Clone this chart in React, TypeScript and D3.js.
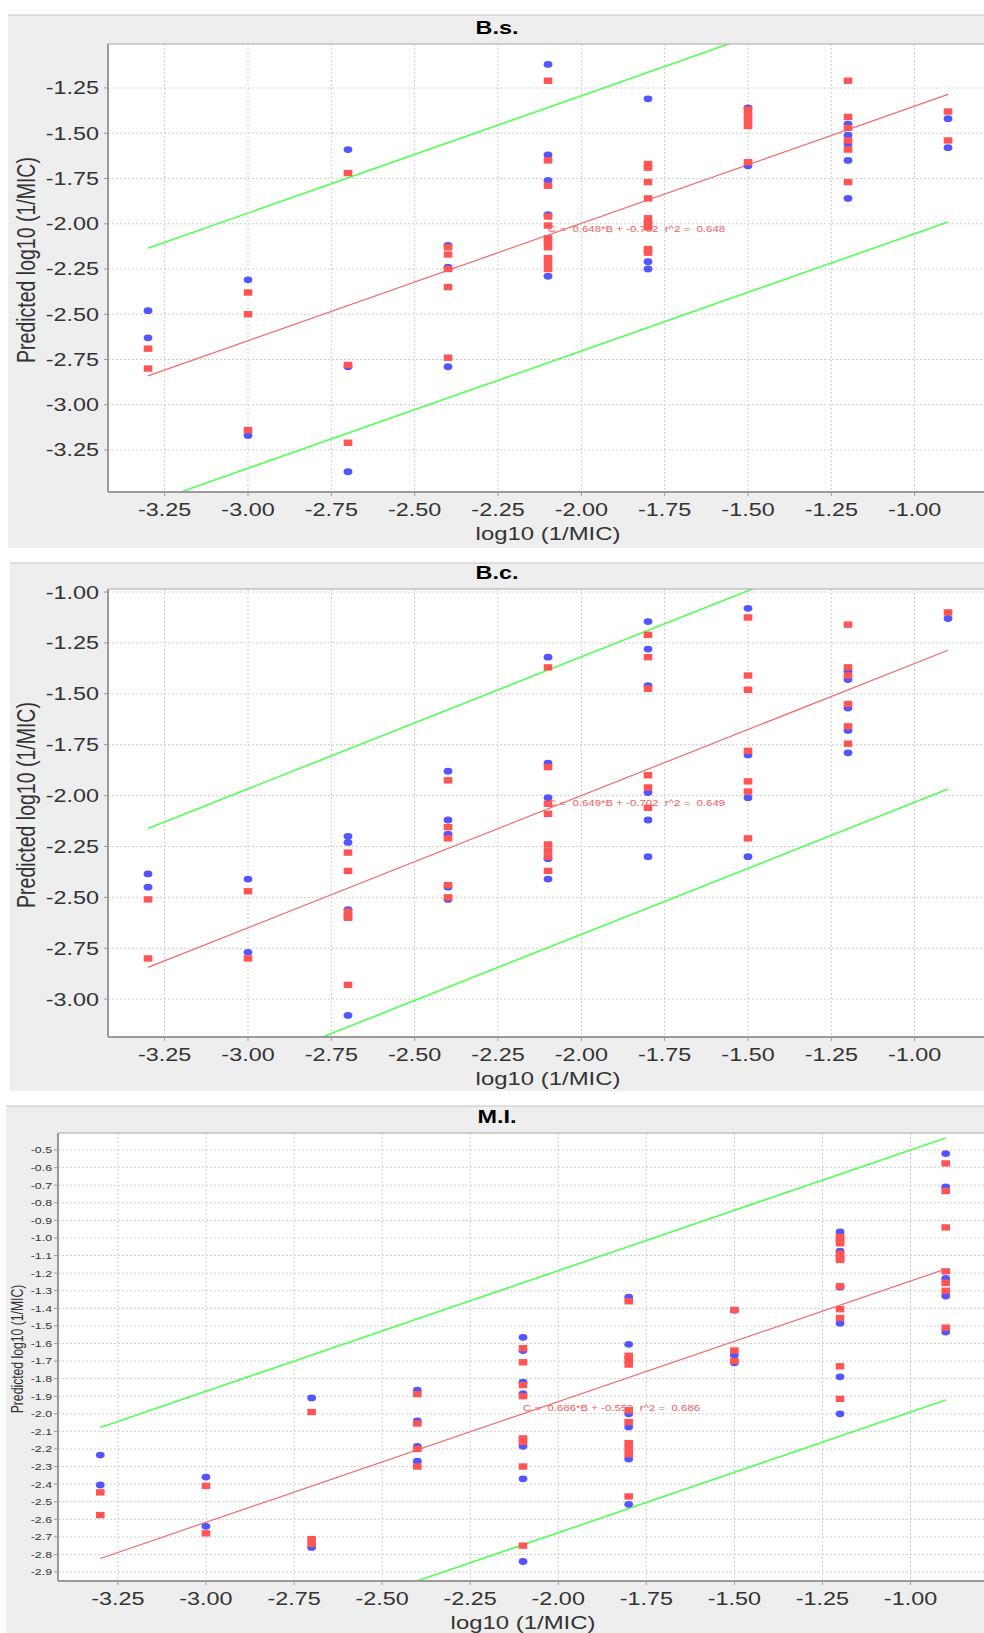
import React from "react";
import * as d3 from "d3";

// shared x levels (log10 1/MIC) and axis ticks
const xLevels = [-3.3, -3.0, -2.7, -2.4, -2.1, -1.8, -1.5, -1.2, -0.9];
const xTicks = [-3.25, -3.0, -2.75, -2.5, -2.25, -2.0, -1.75, -1.5, -1.25, -1.0];
const xDomain = [-3.42, -0.78];
const fitEnds = [-3.3, -0.9];
const labelAt = -2.1;

// B.s. panel, one list of values per x level
const bsBlue = [
  [-2.48, -2.63],
  [-2.31, -3.17],
  [-1.59, -2.79, -3.37],
  [-2.12, -2.24, -2.79],
  [-1.12, -1.62, -1.76, -1.95, -2.29],
  [-1.31, -1.99, -2.21, -2.25],
  [-1.36, -1.68],
  [-1.45, -1.51, -1.56, -1.65, -1.86],
  [-1.42, -1.58],
];
const bsRed = [
  [-2.69, -2.8],
  [-2.38, -2.5, -3.14],
  [-1.72, -2.78, -3.21],
  [-2.13, -2.17, -2.25, -2.35, -2.74],
  [-1.21, -1.65, -1.79, -1.96, -2.01, -2.08, -2.1, -2.13, -2.19, -2.22, -2.25],
  [-1.67, -1.69, -1.77, -1.86, -1.97, -2.0, -2.02, -2.14, -2.16],
  [-1.37, -1.4, -1.43, -1.46, -1.66],
  [-1.21, -1.41, -1.47, -1.54, -1.59, -1.77],
  [-1.38, -1.54],
];
const bsYTicks = [-3.25, -3.0, -2.75, -2.5, -2.25, -2.0, -1.75, -1.5, -1.25];
const bsFit = [0.648, -0.702, 0.705]; // slope, intercept, band
const bsR2 = 0.648;

// B.c. panel
const bcBlue = [
  [-2.385, -2.45],
  [-2.41, -2.77],
  [-2.2, -2.23, -2.56, -3.08],
  [-1.88, -2.12, -2.19, -2.45, -2.51],
  [-1.32, -1.84, -2.01, -2.31, -2.41],
  [-1.145, -1.28, -1.46, -1.985, -2.12, -2.3],
  [-1.08, -1.8, -2.01, -2.3],
  [-1.39, -1.43, -1.57, -1.68, -1.79],
  [-1.13],
];
const bcRed = [
  [-2.51, -2.8],
  [-2.47, -2.8],
  [-2.28, -2.37, -2.57, -2.59, -2.6, -2.93],
  [-1.925, -2.155, -2.21, -2.44, -2.5],
  [-1.37, -1.86, -2.04, -2.09, -2.24, -2.27, -2.3, -2.37],
  [-1.21, -1.32, -1.475, -1.9, -1.96, -2.06],
  [-1.125, -1.41, -1.48, -1.78, -1.93, -1.98, -2.21],
  [-1.16, -1.37, -1.41, -1.55, -1.66, -1.745],
  [-1.1],
];
const bcYTicks = [-3.0, -2.75, -2.5, -2.25, -2.0, -1.75, -1.5, -1.25, -1.0];
const bcFit = [0.649, -0.702, 0.682];
const bcR2 = 0.649;

// M.l. panel
const miBlue = [
  [-2.235, -2.405],
  [-2.36, -2.64],
  [-1.91, -2.76],
  [-1.865, -2.04, -2.185, -2.27],
  [-1.565, -1.64, -1.82, -1.885, -2.185, -2.37, -2.84],
  [-1.336, -1.605, -2.0, -2.075, -2.257, -2.515],
  [-1.41, -1.665, -1.71],
  [-0.966, -1.075, -1.28, -1.485, -1.79, -2.0],
  [-0.52, -0.71, -1.23, -1.33, -1.535],
];
const miRed = [
  [-2.447, -2.576],
  [-2.41, -2.68],
  [-1.99, -2.713, -2.74],
  [-1.888, -2.055, -2.2, -2.3],
  [-1.627, -1.707, -1.837, -1.9, -2.14, -2.16, -2.3, -2.75],
  [-1.36, -1.67, -1.69, -1.72, -1.98, -2.047, -2.167, -2.195, -2.23, -2.47],
  [-1.41, -1.64, -1.7],
  [-0.995, -1.01, -1.03, -1.09, -1.11, -1.125, -1.275, -1.405, -1.455, -1.73, -1.915],
  [-0.576, -0.733, -0.94, -1.19, -1.255, -1.3, -1.51],
];
const miYTicks = [
  -2.9, -2.8, -2.7, -2.6, -2.5, -2.4, -2.3, -2.2, -2.1, -2.0, -1.9, -1.8, -1.7,
  -1.6, -1.5, -1.4, -1.3, -1.2, -1.1, -1.0, -0.9, -0.8, -0.7, -0.6, -0.5,
];
const miFit = [0.686, -0.559, 0.745];
const miR2 = 0.686;

const FONT = "'Liberation Sans', Arial, Helvetica, sans-serif";
const SX = 1.3; // the source picture is stretched sideways
const BLUE = "#5555ff";
const RED = "#ff5555";
const GREEN = "#55ff55";

const Panel = (props) => {
  const { id, title, blue, red, yTicks, yDomain, fit, r2, lay, digits } = props;
  const { box, plot } = lay;
  const x = d3.scaleLinear().domain(xDomain).range([plot.left, plot.right]);
  const y = d3.scaleLinear().domain(yDomain).range([plot.bottom, plot.top]);
  const [slope, intercept, band] = fit;
  const fitY = (b, off) => slope * b + intercept + off;
  const path = d3
    .line()
    .x((d) => x(d[0]))
    .y((d) => y(d[1]));
  const lineFor = (off) => path(fitEnds.map((b) => [b, fitY(b, off)]));
  const bluePts = blue.flatMap((ys, i) => ys.map((v) => [xLevels[i], v]));
  const redPts = red.flatMap((ys, i) => ys.map((v) => [xLevels[i], v]));
  const pw = plot.right - plot.left;
  const ph = plot.bottom - plot.top;
  const fmt = (v) => v.toFixed(digits);
  const eq = `C =  ${slope.toFixed(3)}*B + ${intercept.toFixed(3)}  r^2 =  ${r2.toFixed(3)}`;

  return (
    <g fontFamily={FONT}>
      <rect x={box.x} y={box.y} width={box.w} height={box.h} fill="#eeeeee" />
      <line x1={box.x} x2={box.x + box.w} y1={box.y} y2={box.y} stroke="#c4c4c4" />
      <text
        transform={`translate(497,${lay.titleY}) scale(${SX},1)`}
        textAnchor="middle"
        fontWeight="bold"
        fontSize={18}
        fill="#000"
      >
        {title}
      </text>

      {/* plot area */}
      <rect x={plot.left} y={plot.top} width={pw} height={ph} fill="#fff" />
      {xTicks.map((t) => (
        <line key={"gx" + t} x1={x(t)} x2={x(t)} y1={plot.top} y2={plot.bottom}
          stroke="#cfcfcf" strokeDasharray="2,2" />
      ))}
      {yTicks.map((t) => (
        <line key={"gy" + t} x1={plot.left} x2={plot.right} y1={y(t)} y2={y(t)}
          stroke="#cfcfcf" strokeDasharray="2,2" />
      ))}

      <clipPath id={`clip-${id}`}>
        <rect x={plot.left} y={plot.top} width={pw} height={ph} />
      </clipPath>
      <g clipPath={`url(#clip-${id})`}>
        <path d={lineFor(band)} stroke={GREEN} strokeWidth={1.6} fill="none" />
        <path d={lineFor(-band)} stroke={GREEN} strokeWidth={1.6} fill="none" />
        <path d={lineFor(0)} stroke="#f06a6a" strokeWidth={1.2} fill="none" />
        {bluePts.map((d, i) => (
          <ellipse key={"b" + i} cx={x(d[0])} cy={y(d[1])} rx={4.4} ry={3.4} fill={BLUE} />
        ))}
        {redPts.map((d, i) => (
          <rect key={"r" + i} x={x(d[0]) - 4.3} y={y(d[1]) - 3.2} width={8.6} height={6.4} fill={RED} />
        ))}
        <text
          transform={`translate(${x(labelAt)},${y(fitY(labelAt, 0)) - 3}) scale(${SX},1)`}
          fontSize={8.8}
          fill="#f26060"
          style={{ whiteSpace: "pre" }}
        >
          {eq}
        </text>
      </g>

      {/* axes */}
      <line x1={plot.left} x2={plot.right} y1={plot.top} y2={plot.top} stroke="#a8a8a8" />
      <line x1={plot.left} x2={plot.left} y1={plot.top} y2={plot.bottom} stroke="#9a9a9a" strokeWidth={2} />
      <line x1={plot.left} x2={plot.right} y1={plot.bottom} y2={plot.bottom} stroke="#9a9a9a" strokeWidth={2} />
      {yTicks.map((t) => (
        <g key={"ty" + t}>
          <line x1={plot.left - 4} x2={plot.left} y1={y(t)} y2={y(t)} stroke="#9a9a9a" />
          <text
            transform={`translate(${lay.yTickX},${y(t)}) scale(${SX},1)`}
            dy="0.36em"
            textAnchor="end"
            fontSize={lay.yTickFont}
            fill="#333"
          >
            {fmt(t)}
          </text>
        </g>
      ))}
      {xTicks.map((t) => (
        <g key={"tx" + t}>
          <line x1={x(t)} x2={x(t)} y1={plot.bottom} y2={plot.bottom + 4} stroke="#9a9a9a" />
          <text
            transform={`translate(${x(t)},${plot.bottom + 24}) scale(${SX},1)`}
            textAnchor="middle"
            fontSize={18}
            fill="#333"
          >
            {t.toFixed(2)}
          </text>
        </g>
      ))}
      <text
        transform={`translate(${(plot.left + plot.right) / 2},${plot.bottom + 48}) scale(${SX},1)`}
        textAnchor="middle"
        fontSize={18.4}
        fill="#333"
      >
        log10 (1/MIC)
      </text>
      <text
        transform={`translate(${lay.yLabelX},${(plot.top + plot.bottom) / 2 - 8}) scale(${SX},1) rotate(-90)`}
        textAnchor="middle"
        dy="0.35em"
        fontSize={lay.yLabelFont}
        fill="#333"
      >
        Predicted log10 (1/MIC)
      </text>
    </g>
  );
};

const layBs = {
  box: { x: 8, y: 15, w: 990, h: 533 },
  plot: { left: 108, top: 44, right: 988, bottom: 492 },
  titleY: 34, yTickX: 99, yTickFont: 18, yLabelX: 26, yLabelFont: 19.5,
};
const layBc = {
  box: { x: 10, y: 563, w: 990, h: 528 },
  plot: { left: 108, top: 589, right: 988, bottom: 1037 },
  titleY: 579, yTickX: 99, yTickFont: 18, yLabelX: 26, yLabelFont: 19.5,
};
const layMi = {
  box: { x: 6, y: 1106, w: 990, h: 540 },
  plot: { left: 58, top: 1133, right: 988, bottom: 1581 },
  titleY: 1123, yTickX: 52, yTickFont: 9.5, yLabelX: 17, yLabelFont: 12.2,
};

export default function App() {
  return (
    <svg
      width={984}
      height={1633}
      viewBox="0 0 984 1633"
      style={{ position: "absolute", left: 0, top: 0, background: "#fff" }}
    >
      <Panel id="bs" title="B.s." blue={bsBlue} red={bsRed} yTicks={bsYTicks}
        yDomain={[-3.482, -1.007]} fit={bsFit} r2={bsR2} lay={layBs} digits={2} />
      <Panel id="bc" title="B.c." blue={bcBlue} red={bcRed} yTicks={bcYTicks}
        yDomain={[-3.186, -0.985]} fit={bcFit} r2={bcR2} lay={layBc} digits={2} />
      <Panel id="mi" title="M.I." blue={miBlue} red={miRed} yTicks={miYTicks}
        yDomain={[-2.951, -0.403]} fit={miFit} r2={miR2} lay={layMi} digits={1} />
    </svg>
  );
}
